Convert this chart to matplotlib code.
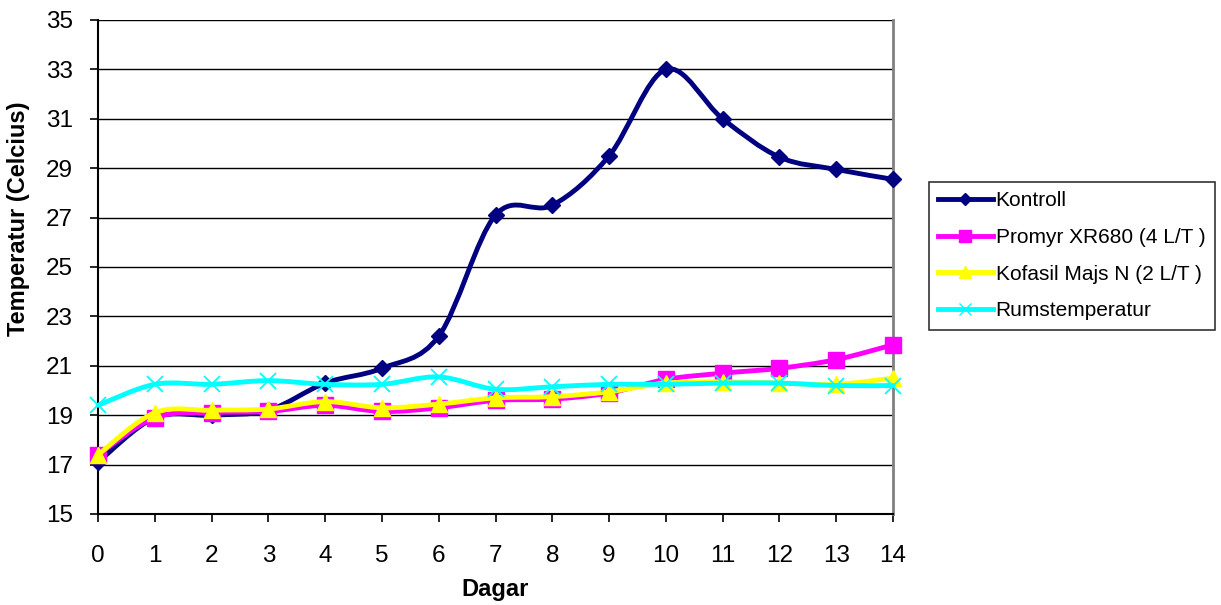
from matplotlib import pyplot as plt
from matplotlib.path import Path
from matplotlib.patches import PathPatch
from matplotlib.lines import Line2D
import numpy as np

##-----------------------------------------------------------------------------

dagar = list(range(15))

kontroll = [17.1, 18.9, 19.0, 19.2, 20.3, 20.9, 22.2, 27.1, 27.5, 29.5,
            33.0, 31.0, 29.45, 28.95, 28.55]
promyr = [17.4, 18.9, 19.1, 19.15, 19.4, 19.15, 19.3, 19.6, 19.65, 19.9,
          20.45, 20.7, 20.9, 21.25, 21.85]
kofasil = [17.4, 19.1, 19.2, 19.25, 19.55, 19.3, 19.45, 19.7, 19.75, 19.95,
           20.3, 20.35, 20.3, 20.25, 20.5]
rumstemp = [19.4, 20.25, 20.25, 20.4, 20.25, 20.25, 20.55, 20.05, 20.15, 20.25,
            20.25, 20.3, 20.3, 20.2, 20.2]

labels = ['Kontroll', 'Promyr XR680 (4 L/T )', 'Kofasil Majs N (2 L/T )', 'Rumstemperatur']
colors = ['#000080', '#FF00FF', '#FFFF00', '#00FFFF']
markers = ['D', 's', '^', 'x']
msizes = [8, 11, 12, 11]

##-----------------------------------------------------------------------------

def smooth_path(x, y):
    # Excel-like smoothed line: Catmull-Rom as cubic bezier
    p = np.column_stack([x, y]).astype(float)
    n = len(p)
    verts = [p[0]]
    codes = [Path.MOVETO]
    for i in range(n - 1):
        p0 = p[i - 1] if i > 0 else p[i]
        p3 = p[i + 2] if i + 2 < n else p[i + 1]
        c1 = p[i] + (p[i + 1] - p0) / 6
        c2 = p[i + 1] - (p3 - p[i]) / 6
        verts += [c1, c2, p[i + 1]]
        codes += [Path.CURVE4] * 3
    return Path(verts, codes)

##-----------------------------------------------------------------------------

plt.rcParams['font.family'] = ['Liberation Sans', 'DejaVu Sans']

fig = plt.figure(figsize=(12.21, 6.05), dpi=100)
ax = fig.add_axes([98/1221, 91/605, (893-98)/1221, (514-20)/605])

series = [kontroll, promyr, kofasil, rumstemp]
for k, vals in enumerate(series):
    patch = PathPatch(smooth_path(dagar, vals), facecolor='none', edgecolor=colors[k],
                      lw=3.5, zorder=3 + k, capstyle='round', joinstyle='round',
                      clip_on=False)
    ax.add_patch(patch)
    if markers[k] == 'x':
        ax.plot(dagar, vals, ls='none', marker='x', ms=msizes[k], mew=1.3,
                color=colors[k], zorder=3 + k, clip_on=False)
    else:
        ax.plot(dagar, vals, ls='none', marker=markers[k], ms=msizes[k],
                mfc=colors[k], mec=colors[k], zorder=3 + k, clip_on=False)

ax.set_xlim(0, 14)
ax.set_ylim(15, 35)
ax.set_xticks(dagar)
ax.set_yticks(np.arange(15, 36, 2))
ax.yaxis.grid(True, color='black', lw=1)
ax.set_axisbelow(True)
ax.spines['top'].set_visible(False)
ax.spines['right'].set_color('#808080')
ax.spines['right'].set_linewidth(2)
ax.spines['left'].set_linewidth(1.5)
ax.spines['bottom'].set_linewidth(1.5)
ax.tick_params(axis='both', direction='out', length=6, width=1.2, labelsize=17.5)
ax.tick_params(axis='y', pad=12)
ax.tick_params(axis='x', pad=16)

ax.set_xlabel('Dagar', fontsize=17, fontweight='bold')
ax.xaxis.set_label_coords(0.5, -0.13)
ax.set_ylabel('Temperatur (Celcius)', fontsize=17, fontweight='bold')
ax.yaxis.set_label_coords(-0.086, 0.597)

handles = [Line2D([0], [0], color=colors[k], lw=3.5, marker=markers[k],
                  ms=msizes[k] * 0.75, mfc=colors[k], mec=colors[k]) for k in range(4)]
leg = fig.legend(handles, labels, loc='upper left', bbox_to_anchor=(929/1221, 1 - 182/605),
                 fontsize=15, frameon=True, fancybox=False, edgecolor='black',
                 handlelength=2.6, labelspacing=0.85, borderpad=0.45, handletextpad=0.15,
                 borderaxespad=0)
leg.get_frame().set_linewidth(1.2)

fig.savefig('out.png', dpi=100)
